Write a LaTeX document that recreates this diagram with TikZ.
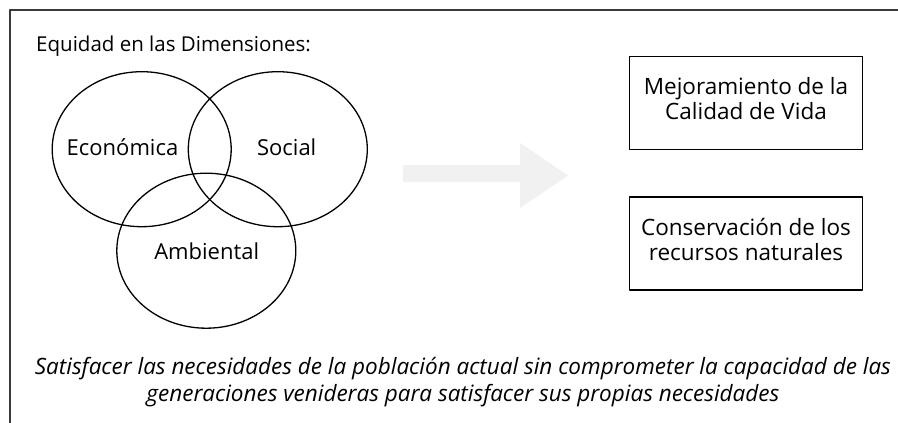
\documentclass[tikz,border=0pt]{standalone}
\usepackage{fontspec}
\setmainfont{Open Sans}
\usetikzlibrary{shapes.geometric}
\usetikzlibrary{positioning}
\definecolor{framegray}{HTML}{3A3A3A}
\definecolor{arrowgray}{HTML}{F1F1F1}
\tikzset{dimension/.style={draw,ellipse,minimum width=179pt,minimum height=155pt,line width=1.3pt},
  dimlabel/.style={font=\fontsize{22}{26}\selectfont},
  goalbox/.style={draw,line width=1.4pt,minimum width=233pt,minimum height=93pt,align=center,font=\fontsize{22.5}{25}\selectfont}}

\begin{document}
\begin{tikzpicture}[line cap=round,line join=round,x=1pt,y=-1pt]
\useasboundingbox[fill=white] (0,0) rectangle (898,423);
\draw[color=framegray,line width=1.5pt] (10,423) -- (10,10) -- (898,10);
\node[anchor=base west,inner sep=0pt,font=\fontsize{20.5}{24}\selectfont] (titulo) at (36,52) {Equidad en las Dimensiones:};
\node[dimension] (eco) at (141.7,149.2) {};
\node[dimension] (soc) at (277.8,149.2) {};
\node[dimension] (amb) at (206.3,250.7) {};
\node[dimlabel] (ecolbl) at (122.5,147) {Económica};
\node[dimlabel] (soclbl) at (286.7,147) {Social};
\node[dimlabel] (amblbl) at (206.7,251) {Ambiental};
\fill[arrowgray] (403,165) -- (520,165) -- (520,143) -- (568,175.5) -- (520,208) -- (520,182) -- (403,182) -- cycle;
\node[goalbox,text depth=8pt] (vida) at (746,102.7) {Mejoramiento de la\\Calidad de Vida};
\node[goalbox,text depth=8pt] (recursos) at (746,243.3) {Conservación de los\\recursos naturales};
\node[align=center,font=\fontsize{22.5}{27}\selectfont\itshape] (lema) at (463,382) {Satisfacer las necesidades de la población actual sin comprometer la capacidad de las\\generaciones venideras para satisfacer sus propias necesidades};
\end{tikzpicture}
\end{document}
